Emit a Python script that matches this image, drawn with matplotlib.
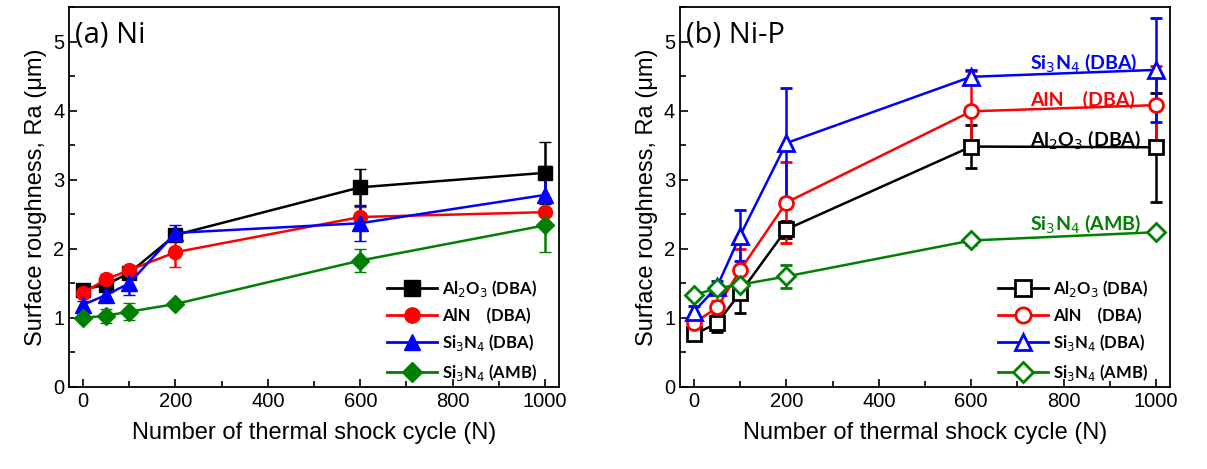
import numpy as np
import matplotlib.pyplot as plt
from matplotlib.ticker import MultipleLocator
from matplotlib.lines import Line2D

cycles = [0, 50, 100, 200, 600, 1000]
labels = ["Al$_2$O$_3$ (DBA)", "AlN    (DBA)", "Si$_3$N$_4$ (DBA)", "Si$_3$N$_4$ (AMB)"]
colors = ["black", "red", "blue", "green"]
markers = ["s", "o", "^", "D"]

# (a) Ni
ni_al2o3 = [1.41, 1.48, 1.65, 2.20, 2.89, 3.10]
ni_al2o3_err = [0.06, 0.08, 0.06, 0.08, 0.27, 0.45]
ni_aln = [1.36, 1.56, 1.69, 1.95, 2.46, 2.53]
ni_aln_err = [0.06, 0.07, 0.06, 0.22, 0.15, 0.2]
ni_si3n4 = [1.19, 1.33, 1.50, 2.23, 2.37, 2.78]
ni_si3n4_err = [0.06, 0.08, 0.17, 0.12, 0.26, 0.42]
ni_amb = [1.00, 1.03, 1.09, 1.20, 1.83, 2.34]
ni_amb_err = [0.05, 0.10, 0.12, 0.05, 0.16, 0.39]

# (b) Ni-P
nip_al2o3 = [0.76, 0.92, 1.36, 2.28, 3.48, 3.47]
nip_al2o3_err = [0.06, 0.12, 0.29, 0.12, 0.31, 0.79]
nip_aln = [0.92, 1.15, 1.69, 2.67, 3.99, 4.08]
nip_aln_err = [0.06, 0.1, 0.3, 0.58, 0.58, 0.56]
nip_si3n4 = [1.09, 1.45, 2.19, 3.53, 4.49, 4.59]
nip_si3n4_err = [0.08, 0.08, 0.37, 0.8, 0.1, 0.75]
nip_amb = [1.33, 1.43, 1.48, 1.60, 2.12, 2.24]
nip_amb_err = [0.05, 0.05, 0.05, 0.17, 0.06, 0.04]

# text labels on panel (b): x start, y
nip_tag_x = [728, 728, 728, 728]
nip_tag_y = [3.58, 4.16, 4.70, 2.37]

lab_font = "Liberation Sans"
leg_font = "Lato"

fig = plt.figure(figsize=(12.07, 4.69), dpi=100)
ax1 = fig.add_axes([0.0573, 0.175, 0.4058, 0.81])
ax2 = fig.add_axes([0.5634, 0.175, 0.4059, 0.81])


def msize(m):
    if m == "D":
        return 9
    if m == "^":
        return 11
    return 10


def draw_panel(ax, series, errs, filled, title):
    handles = []
    for y, e, c, m, lab in zip(series, errs, colors, markers, labels):
        fc = c if filled else "white"
        mew = 1 if filled else 2
        ax.errorbar(cycles, y, yerr=e, color=c, marker=m, markersize=msize(m),
                    markerfacecolor=fc, markeredgecolor=c, markeredgewidth=mew,
                    linewidth=1.8, capsize=4, capthick=1.5, elinewidth=1.8)
        handles.append(Line2D([], [], color=c, marker=m, markersize=msize(m) + 1,
                              markerfacecolor=fc, markeredgecolor=c,
                              markeredgewidth=mew, linewidth=2, label=lab))
    ax.set_xlim(-30, 1030)
    ax.set_ylim(0, 5.5)
    ax.xaxis.set_major_locator(MultipleLocator(200))
    ax.xaxis.set_minor_locator(MultipleLocator(100))
    ax.yaxis.set_major_locator(MultipleLocator(1))
    ax.yaxis.set_minor_locator(MultipleLocator(0.5))
    ax.tick_params(which="both", direction="in", top=False, right=False,
                   labelsize=14.5, width=1.2)
    ax.tick_params(which="major", length=6)
    ax.tick_params(which="minor", length=4)
    for lab in ax.get_xticklabels() + ax.get_yticklabels():
        lab.set_fontfamily(lab_font)
    for sp in ax.spines.values():
        sp.set_linewidth(1.3)
    ax.set_xlabel("Number of thermal shock cycle (N)", fontsize=17,
                  family=lab_font, labelpad=8)
    ax.set_ylabel("Surface roughness, Ra (\u03bcm)", fontsize=17,
                  family=lab_font, labelpad=4)
    ax.text(0.012, 0.965, title, transform=ax.transAxes, fontsize=21,
            family="Open Sans", va="top", ha="left")
    ax.legend(handles=handles, loc="lower right", bbox_to_anchor=(0.975, -0.015),
              frameon=False, prop={"family": leg_font, "weight": "bold", "size": 12},
              handlelength=3.0, labelspacing=0.5, handletextpad=0.3,
              borderaxespad=0.2)


draw_panel(ax1, [ni_al2o3, ni_aln, ni_si3n4, ni_amb],
           [ni_al2o3_err, ni_aln_err, ni_si3n4_err, ni_amb_err], True, "(a) Ni")
draw_panel(ax2, [nip_al2o3, nip_aln, nip_si3n4, nip_amb],
           [nip_al2o3_err, nip_aln_err, nip_si3n4_err, nip_amb_err], False, "(b) Ni-P")

for lab, c, tx, ty in zip(labels, colors, nip_tag_x, nip_tag_y):
    ax2.text(tx, ty, lab, color=c, fontsize=14, family=leg_font,
             weight="bold", va="center", ha="left")

fig.savefig("out.png", dpi=100)
